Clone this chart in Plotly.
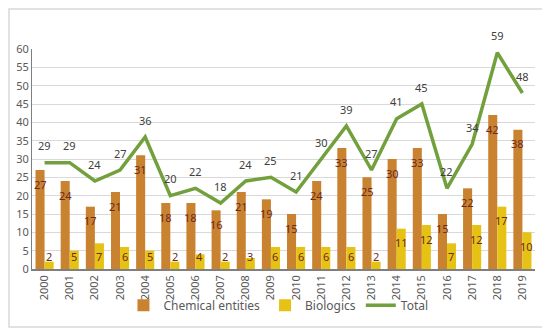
import plotly.graph_objects as go

years = [str(y) for y in range(2000, 2020)]
chemical = [27, 24, 17, 21, 31, 18, 18, 16, 21, 19, 15, 24, 33, 25, 30, 33, 15, 22, 42, 38]
biologics = [2, 5, 7, 6, 5, 2, 4, 2, 3, 6, 6, 6, 6, 2, 11, 12, 7, 12, 17, 10]
total = [29, 29, 24, 27, 36, 20, 22, 18, 24, 25, 21, 30, 39, 27, 41, 45, 22, 34, 59, 48]
y_ticks = list(range(0, 61, 5))

FONT = "Noto Sans"
LABEL_RED = "#6E2A1E"
fig = go.Figure()
fig.add_trace(go.Bar(
    x=years, y=chemical, name="Chemical entities",
    marker=dict(color="#C9822F", line=dict(width=0)),
))
fig.add_trace(go.Bar(
    x=years, y=biologics, name="Biologics",
    marker=dict(color="#E6C214", line=dict(width=0)),
))
fig.add_trace(go.Scatter(
    x=years, y=total, name="Total", mode="lines",
    line=dict(color="#72A03C", width=3.5),
))

# page has an 8px body margin: figure is offset by 8px
OFF = 8
W, H = 550 - OFF, 332 - OFF
L, T = 32 - OFF, 49 - OFF
R = W - L - 503
B = 63
pw, ph = W - L - R, H - T - B
units_per_px = 60 / ph

# data labels (inside end of bars, above line points)
anns = []
for i, (c, b, t) in enumerate(zip(chemical, biologics, total)):
    anns.append(dict(x=i, y=max(c - 14 * units_per_px, 13 * units_per_px), xshift=-4.5,
                     text=str(c), showarrow=False, yanchor="middle",
                     font=dict(family=FONT, size=11, color=LABEL_RED)))
    anns.append(dict(x=i, y=max(b - 14 * units_per_px, 13 * units_per_px), xshift=4.5,
                     text=str(b), showarrow=False, yanchor="middle",
                     font=dict(family=FONT, size=11, color=LABEL_RED)))
    anns.append(dict(x=i, y=t, yshift=17, text=str(t), showarrow=False, yanchor="middle",
                     font=dict(family=FONT, size=11, color="#404040")))

fig.add_shape(type="rect", xref="paper", yref="paper",
              x0=(1 - L) / pw, x1=(545 - OFF - L) / pw,
              y0=(H - B - (327 - OFF)) / ph, y1=(H - B - 1) / ph,
              line=dict(color="#D9D9D9", width=1.5), fillcolor="rgba(0,0,0,0)",
              layer="below")

fig.update_layout(
    width=W, height=H,
    margin=dict(l=L, r=R, t=T, b=B, autoexpand=False),
    paper_bgcolor="white", plot_bgcolor="white",
    barmode="group", bargap=0.28, bargroupgap=0,
    font=dict(family=FONT, size=11, color="#595959"),
    showlegend=True,
    annotations=anns,
    legend=dict(orientation="h", x=0.49, xanchor="center", y=-0.165, yanchor="middle",
                font=dict(family=FONT, size=12, color="#595959"),
                bgcolor="rgba(0,0,0,0)", itemwidth=30, tracegroupgap=0),
    xaxis=dict(type="category", range=[-0.5, len(years) - 0.5],
               tickangle=-90, showgrid=False, showline=True, linecolor="#7F7F7F",
               linewidth=1.5, ticks="", automargin=False,
               tickfont=dict(family=FONT, size=11, color="#595959")),
    yaxis=dict(range=[0, 60], tickvals=y_ticks, showgrid=True, gridcolor="#D9D9D9",
               gridwidth=1, showline=True, linecolor="#7F7F7F", linewidth=1,
               zeroline=False, ticks="", automargin=False,
               tickfont=dict(family=FONT, size=11, color="#595959")),
)

fig.write_html("out.html")
